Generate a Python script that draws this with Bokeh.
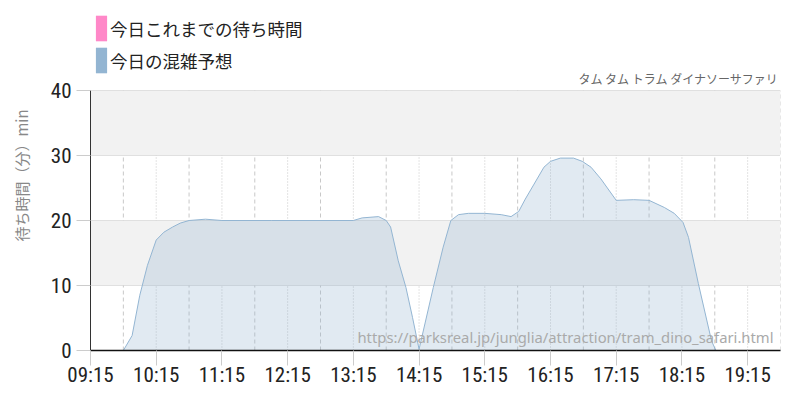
from bokeh.plotting import figure
from bokeh.models import FixedTicker, Label, Legend, LegendItem, Range1d
from bokeh.embed import file_html
from bokeh.resources import INLINE

# ---- data ----
times = ["09:15", "09:30", "09:45", "09:53", "10:00", "10:07", "10:15", "10:22",
         "10:30", "10:37", "10:45", "11:00", "11:15", "12:00", "13:15", "13:23",
         "13:38", "13:45", "13:49", "13:56", "14:03", "14:09", "14:15", "14:28",
         "14:37", "14:44", "14:51", "15:00", "15:15", "15:30", "15:39", "15:46",
         "15:52", "16:00", "16:09", "16:15", "16:24", "16:36", "16:44", "16:52",
         "17:01", "17:15", "17:31", "17:45", "17:59", "18:08", "18:16", "18:21",
         "18:30", "18:42", "18:46", "19:00", "19:15", "19:45"]
forecast = [0, -0.3, 0, 2.3, 8.5, 13.1, 17.0, 18.2,
            19.0, 19.6, 20.0, 20.2, 20.0, 20.0, 20.0, 20.4,
            20.6, 20.0, 19.0, 13.8, 9.7, 5.1, 0.2, 9.7,
            15.9, 20.0, 20.9, 21.1, 21.1, 20.9, 20.6, 21.4,
            23.3, 25.6, 28.2, 29.1, 29.6, 29.6, 29.1, 28.2,
            26.4, 23.1, 23.2, 23.1, 22.0, 21.1, 19.7, 17.4,
            10.3, 1.5, 0, -0.15, 0, 0]
today_so_far = [0]  # actual waits: nothing recorded yet

tick_labels = ["09:15", "10:15", "11:15", "12:15", "13:15", "14:15",
               "15:15", "16:15", "17:15", "18:15", "19:15"]
minor_labels = ["09:45", "10:45", "11:45", "12:45", "13:45", "14:45",
                "15:45", "16:45", "17:45", "18:45", "19:45"]
y_ticks = [0, 10, 20, 30, 40]

legend_names = ["今日これまでの待ち時間", "今日の混雑予想"]
title_text = "タム タム トラム ダイナソーサファリ"
y_title = "待ち時間（分）min"
watermark = "https://parksreal.jp/junglia/attraction/tram_dino_safari.html"


def to_min(s):
    h, m = s.split(":")
    return int(h) * 60 + int(m)


xs = [to_min(t) for t in times]
major = [to_min(t) for t in tick_labels]
minor = [to_min(t) for t in minor_labels]

TICK_FONT = "Liberation Sans Narrow, Roboto Condensed, DejaVu Sans Condensed, sans-serif"
JP_FONT = "Noto Sans CJK JP"

# layout: the frame spans from the top of the figure; the data area (0..40)
# occupies its lower 260 px, the header (legend, title) sits above it.
FRAME_H = 350
DATA_H = 260
y_top = y_ticks[-1] * FRAME_H / DATA_H

p = figure(width=800, height=400, output_backend="svg", toolbar_location=None,
           x_range=Range1d(to_min("09:15"), to_min("19:45")),
           y_range=Range1d(0, y_top),
           min_border_left=90, min_border_top=0, min_border_right=20,
           min_border_bottom=50)
p.outline_line_color = None
p.background_fill_color = "white"
p.border_fill_color = "white"

# grids
p.xgrid.visible = False
p.ygrid.ticker = FixedTicker(ticks=y_ticks)
p.ygrid.grid_line_color = "#c8c8c8"
p.ygrid.grid_line_dash = "1 1"
p.ygrid.band_fill_color = "#f2f2f2"
p.ygrid.band_fill_alpha = 1

# vertical grid lines (only over the data area)
p.segment(x0=major, y0=y_ticks[0], x1=major, y1=y_ticks[-1],
          line_color="#c8c8c8", line_dash="1 2", line_width=1, level="underlay")
p.segment(x0=minor, y0=y_ticks[0], x1=minor, y1=y_ticks[-1],
          line_color="#c8c8c8", line_dash="4 3", line_width=1, level="underlay")

# axes
p.xaxis.ticker = FixedTicker(ticks=major)
p.xaxis.major_label_overrides = {m: t for m, t in zip(major, tick_labels)}
p.xaxis.axis_line_color = "#111111"
p.xaxis.axis_line_width = 1.5
p.xaxis.major_tick_line_color = "#cccccc"
p.xaxis.major_tick_out = 15
p.xaxis.major_tick_in = 0
p.xaxis.minor_tick_line_color = None
p.xaxis.major_label_standoff = -3
p.xaxis.major_label_text_font = TICK_FONT
p.xaxis.major_label_text_font_size = "21px"
p.xaxis.major_label_text_color = "#222222"

p.yaxis.ticker = FixedTicker(ticks=y_ticks)
p.yaxis.bounds = (y_ticks[0], y_ticks[-1])
p.yaxis.axis_line_color = "#333333"
p.yaxis.major_tick_line_color = "#cccccc"
p.yaxis.major_tick_out = 14
p.yaxis.major_tick_in = 0
p.yaxis.minor_tick_line_color = None
p.yaxis.major_label_standoff = 5
p.yaxis.major_label_text_font = TICK_FONT
p.yaxis.major_label_text_font_size = "21px"
p.yaxis.major_label_text_color = "#222222"
p.yaxis.axis_label = y_title
p.yaxis.axis_label_text_font = JP_FONT
p.yaxis.axis_label_text_font_size = "15px"
p.yaxis.axis_label_text_font_style = "normal"
p.yaxis.axis_label_text_color = "#888888"
p.yaxis.axis_label_standoff = 16

# forecast area
p.varea(x=xs, y1=0, y2=forecast, fill_color="#93b5d2", fill_alpha=0.28)
p.line(x=xs, y=forecast, line_color="#93b5d2", line_width=1)

# today's actual waits (no data yet) -- pink series; and a legend swatch for
# the forecast series (a zero-size area so only its legend glyph shows)
r_pink = p.varea(x=xs[:1], y1=0, y2=today_so_far, fill_color="#ff88c8")
r_blue = p.varea(x=xs[:1], y1=0, y2=forecast[:1], fill_color="#93b5d2")
legend = Legend(items=[LegendItem(label=legend_names[0], renderers=[r_pink]),
                       LegendItem(label=legend_names[1], renderers=[r_blue])],
                location=(4, 274), padding=0, spacing=0, margin=0,
                glyph_width=14, glyph_height=32, label_standoff=2,
                label_height=32, label_text_font=JP_FONT,
                label_text_font_size="17.5px", label_text_color="#222222",
                border_line_color=None, background_fill_alpha=0)
p.add_layout(legend)

p.add_layout(Label(x=688, y=272, x_units="screen", y_units="screen",
                   text=title_text, text_align="right", text_baseline="middle",
                   text_font=JP_FONT, text_font_size="12px", text_color="#666666"))
p.add_layout(Label(x=683, y=14, x_units="screen", y_units="screen",
                   text=watermark, text_align="right", text_baseline="middle",
                   text_font="Noto Sans", text_font_size="14.8px", text_color="#aaaaaa"))

open("out.html", "w").write(file_html(p, INLINE))
